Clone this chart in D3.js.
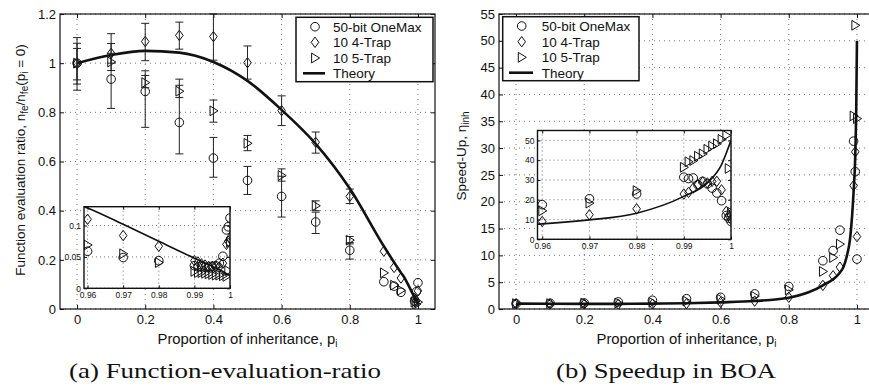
<!DOCTYPE html>
<html>
<head>
<meta charset="utf-8">
<script src="https://cdn.jsdelivr.net/npm/d3@7"></script>
<style>
  body { margin: 0; background: #fff; }
  svg { display: block; }
</style>
</head>
<body>
<svg id="fig" width="869" height="392"></svg>
<script>
// proportion of inheritance used for the main runs
const mainP = [0, 0.1, 0.2, 0.3, 0.4, 0.5, 0.6, 0.7, 0.8, 0.9, 0.93, 0.95, 0.99, 0.995, 1];
// proportions zoomed in the insets
const insetP = [0.96, 0.97, 0.98, 0.99, 0.991, 0.992, 0.993, 0.994, 0.995, 0.996, 0.997, 0.998, 0.999, 0.9995, 1];

// (a) function evaluation ratio
const ratioOneMax = [1.0, 0.935, 0.885, 0.759, 0.614, 0.523, 0.458, 0.354, 0.239, 0.111, 0.093, 0.068, 0.032, 0.07, 0.107];
const ratioTrap4  = [1.0, 1.04, 1.088, 1.113, 1.108, 1.002, 0.807, 0.678, 0.458, 0.235, 0.169, 0.126, 0.043, 0.034, 0.074];
const ratioTrap5  = [1.0, 1.005, 0.921, 0.886, 0.806, 0.674, 0.543, 0.42, 0.28, 0.147, 0.097, 0.076, 0.028, 0.019, 0.028];
// error bar ends (lower, upper) for p = 0 .. 0.8
const errOneMaxLo = [0.89, 0.816, 0.739, 0.631, 0.536, 0.466, 0.374, 0.307, 0.203];
const errOneMaxHi = [1.104, 1.12, 0.969, 0.935, 0.698, 0.58, 0.54, 0.394, 0.27];
const errTrap4Lo  = [0.915, 1.0, 1.01, 1.057, 1.012, 0.935, 0.746, 0.634, 0.429];
const errTrap4Hi  = [1.081, 1.08, 1.162, 1.167, 1.2, 1.07, 0.867, 0.72, 0.488];
const errTrap5Lo  = [0.932, 0.97, 0.9, 0.86, 0.76, 0.644, 0.52, 0.40, 0.265];
const errTrap5Hi  = [1.06, 1.04, 0.95, 0.91, 0.85, 0.706, 0.57, 0.44, 0.295];
// inset values of (a)
const insRatioOneMax = [0.059, 0.049, 0.044, 0.036, 0.034, 0.035, 0.033, 0.034, 0.035, 0.036, 0.04, 0.051, 0.093, 0.098, 0.112];
const insRatioTrap4  = [0.110, 0.084, 0.067, 0.044, 0.042, 0.039, 0.037, 0.035, 0.035, 0.035, 0.034, 0.04, 0.07, 0.075, 0.08];
const insRatioTrap5  = [0.069, 0.055, 0.041, 0.027, 0.025, 0.025, 0.024, 0.023, 0.022, 0.021, 0.021, 0.02, 0.019, 0.028, 0.073];

// (b) speed-up
const speedOneMax = [1.0, 1.07, 1.13, 1.32, 1.63, 1.91, 2.18, 2.82, 4.2, 9.0, 10.9, 14.7, 31.3, 25.6, 9.3];
const speedTrap4  = [1.0, 0.96, 0.92, 0.9, 0.9, 1.0, 1.24, 1.47, 2.18, 4.4, 6.2, 7.8, 23.0, 29.3, 13.5];
const speedTrap5  = [1.0, 1.0, 1.09, 1.13, 1.24, 1.48, 1.84, 2.38, 3.57, 7.0, 9.6, 12.1, 36.0, 52.9, 35.5];
const insSpeedOneMax = [17.5, 20.5, 22.9, 31.4, 30.7, 31, 27.6, 29.3, 28, 25.9, 23.4, 19.5, 12, 10.7, 9.0];
const insSpeedTrap4  = [9.0, 12.4, 15.4, 22.9, 23.7, 25.9, 27.6, 29, 28.5, 29.3, 29.3, 25, 14.1, 12, 10];
const insSpeedTrap5  = [14.4, 18.3, 24.6, 36.4, 39.2, 39.8, 42, 43.2, 45.5, 47.1, 48.3, 50.5, 52.5, 35.8, 13.7];

// theory curves
const theoryP       = [0, 0.1, 0.2, 0.3, 0.4, 0.5, 0.6, 0.7, 0.8, 0.9, 0.95, 0.96, 0.97, 0.98, 0.99, 0.995, 0.998, 1];
const theoryRatio   = [1.0, 1.033, 1.05, 1.043, 1.005, 0.928, 0.81, 0.672, 0.49, 0.255, 0.148, 0.128, 0.102, 0.075, 0.048, 0.035, 0.027, 0.02];
const theorySpeedup = [1.0, 0.97, 0.95, 0.96, 1.0, 1.08, 1.24, 1.49, 2.1, 4.4, 6.8, 7.8, 9.8, 13.2, 21.7, 28.5, 37.8, 50];

// ticks and labels
const xTicks = [0, 0.2, 0.4, 0.6, 0.8, 1];
const ratioTicks = [0, 0.2, 0.4, 0.6, 0.8, 1, 1.2];
const speedTicks = [0, 5, 10, 15, 20, 25, 30, 35, 40, 45, 50, 55];
const insXTicks = [0.96, 0.97, 0.98, 0.99, 1];
const insRatioTicks = [0, 0.05, 0.1];
const insSpeedTicks = [0, 10, 20, 30, 40, 50];
const seriesNames = ['50-bit OneMax', '10 4-Trap', '10 5-Trap', 'Theory'];
const xLabel = 'Proportion of inheritance, p';
const captions = ['(a) Function-evaluation-ratio', '(b) Speedup in BOA'];

const SANS = '"Liberation Sans", Arial, sans-serif';
const svg = d3.select('#fig');
const fmt = d3.format('~g');

const shapePath = {
  circle: 'M4.3,0A4.3,4.3 0 1,1 -4.3,0A4.3,4.3 0 1,1 4.3,0Z',
  diamond: 'M0,-5.2L3.8,0L0,5.2L-3.8,0Z',
  triangle: 'M-3.4,-4.9L4.6,0L-3.4,4.9Z'
};

let clipCount = 0;
function panel(o) {
  const g = svg.append('g');
  const x = d3.scaleLinear().domain(o.xDomain).range([o.left, o.right]);
  const y = d3.scaleLinear().domain(o.yDomain).range([o.bottom, o.top]);
  const id = 'clip' + (clipCount++);
  g.append('clipPath').attr('id', id).append('rect')
    .attr('x', o.left).attr('y', o.top)
    .attr('width', o.right - o.left).attr('height', o.bottom - o.top);
  g.append('rect')
    .attr('x', o.left).attr('y', o.top)
    .attr('width', o.right - o.left).attr('height', o.bottom - o.top)
    .attr('fill', '#fff');

  // dotted grid
  const grid = g.append('g').attr('stroke', '#666').attr('stroke-width', 0.9)
    .attr('stroke-dasharray', o.inset ? '1,3' : '1,4');
  grid.selectAll('.gx').data(o.xTicks).join('line')
    .attr('x1', d => x(d)).attr('x2', d => x(d))
    .attr('y1', o.top).attr('y2', o.bottom);
  grid.selectAll('.gy').data(o.yTicks).join('line')
    .attr('x1', o.left).attr('x2', o.right)
    .attr('y1', d => y(d)).attr('y2', d => y(d));

  // axes, ticks inside
  const ts = o.inset ? 3 : 4;
  const fs = o.inset ? 8.5 : 13;
  const ax = [
    d3.axisBottom(x).tickValues(o.xTicks).tickFormat(fmt).tickPadding(o.inset ? 4 : 6),
    d3.axisTop(x).tickValues(o.xTicks).tickFormat(''),
    d3.axisLeft(y).tickValues(o.yTicks).tickFormat(fmt).tickPadding(o.inset ? 3 : 4),
    d3.axisRight(y).tickValues(o.yTicks).tickFormat('')
  ];
  const pos = [
    `translate(0,${o.bottom})`, `translate(0,${o.top})`,
    `translate(${o.left},0)`, `translate(${o.right},0)`
  ];
  ax.forEach((a, i) => {
    const ag = g.append('g').attr('transform', pos[i])
      .call(a.tickSizeInner(-ts).tickSizeOuter(0));
    ag.select('.domain').remove();
    ag.selectAll('line').attr('stroke', '#111');
    ag.selectAll('text').attr('font-size', fs)
      .attr('font-family', SANS).attr('fill', '#111');
  });
  const data = g.append('g').attr('clip-path', `url(#${id})`);
  const frame = () => g.append('rect')
    .attr('x', o.left).attr('y', o.top)
    .attr('width', o.right - o.left).attr('height', o.bottom - o.top)
    .attr('fill', 'none').attr('stroke', '#111').attr('stroke-width', o.inset ? 1.4 : 1.2);
  return { g, data, x, y, frame };
}

function points(ps, vs) {
  return ps.map((p, i) => ({ p, v: vs[i] }));
}

function markers(P, shape, pts) {
  P.data.append('g').selectAll('path').data(pts).join('path')
    .attr('transform', d => `translate(${P.x(d.p)},${P.y(d.v)})`)
    .attr('d', shapePath[shape])
    .attr('fill', 'none').attr('stroke', '#111').attr('stroke-width', 1);
}

function theory(P, ps, vs, w) {
  const line = d3.line().x(d => P.x(d.p)).y(d => P.y(d.v)).curve(d3.curveMonotoneX);
  P.data.append('path').attr('d', line(points(ps, vs)))
    .attr('fill', 'none').attr('stroke', '#111').attr('stroke-width', w);
}

function errorBars(P, ps, lo, hi) {
  const rows = lo.map((l, i) => ({ p: ps[i], lo: l, hi: hi[i] }));
  const g = P.g.append('g').attr('stroke', '#222').attr('stroke-width', 1);
  g.selectAll('.v').data(rows).join('line')
    .attr('x1', d => P.x(d.p)).attr('x2', d => P.x(d.p))
    .attr('y1', d => P.y(d.lo)).attr('y2', d => P.y(d.hi));
  ['lo', 'hi'].forEach(k => {
    g.selectAll('.c' + k).data(rows).join('line')
      .attr('x1', d => P.x(d.p) - 4).attr('x2', d => P.x(d.p) + 4)
      .attr('y1', d => P.y(d[k])).attr('y2', d => P.y(d[k]));
  });
}

function legend(o) {
  const g = svg.append('g');
  g.append('rect').attr('x', o.x0).attr('y', o.y0)
    .attr('width', o.x1 - o.x0).attr('height', o.y1 - o.y0)
    .attr('fill', '#fff').attr('stroke', '#111').attr('stroke-width', 1.5);
  const shapes = ['circle', 'diamond', 'triangle'];
  seriesNames.forEach((name, i) => {
    const yy = o.rows[i];
    if (i < 3) {
      g.append('path').attr('transform', `translate(${o.mx},${yy})`)
        .attr('d', shapePath[shapes[i]])
        .attr('fill', 'none').attr('stroke', '#111').attr('stroke-width', 1);
    } else {
      g.append('line').attr('x1', o.lx0).attr('x2', o.lx1).attr('y1', yy).attr('y2', yy)
        .attr('stroke', '#111').attr('stroke-width', 2.6);
    }
    g.append('text').attr('x', o.tx).attr('y', yy).attr('dy', '0.36em')
      .attr('font-family', SANS).attr('font-size', 13.5).attr('fill', '#111').text(name);
  });
}

function xTitle(cx) {
  const t = svg.append('text').attr('x', cx).attr('y', 344)
    .attr('text-anchor', 'middle').attr('font-family', SANS)
    .attr('font-size', 14.8).attr('fill', '#111');
  t.append('tspan').text(xLabel);
  t.append('tspan').attr('dy', 3).attr('font-size', 10).text('i');
}

// ---------- (a) ----------
const A = panel({ left: 60, right: 435, top: 14, bottom: 309,
  xDomain: [-0.05, 1.05], yDomain: [0, 1.2], xTicks, yTicks: ratioTicks });
errorBars(A, mainP, errOneMaxLo, errOneMaxHi);
errorBars(A, mainP, errTrap4Lo, errTrap4Hi);
errorBars(A, mainP, errTrap5Lo, errTrap5Hi);
markers(A, 'circle', points(mainP, ratioOneMax));
markers(A, 'diamond', points(mainP, ratioTrap4));
markers(A, 'triangle', points(mainP, ratioTrap5));
theory(A, theoryP, theoryRatio, 2.6);
A.frame();

const Ai = panel({ left: 84, right: 230, top: 206.7, bottom: 288.3, inset: true,
  xDomain: [0.959, 1], yDomain: [0, 0.13], xTicks: insXTicks, yTicks: insRatioTicks });
markers(Ai, 'circle', points(insetP, insRatioOneMax));
markers(Ai, 'diamond', points(insetP, insRatioTrap4));
markers(Ai, 'triangle', points(insetP, insRatioTrap5));
theory(Ai, theoryP, theoryRatio, 1.6);
Ai.frame();

legend({ x0: 296, x1: 433, y0: 17.3, y1: 81.7, rows: [26.7, 42.3, 58, 73.3],
  mx: 315, tx: 333, lx0: 303, lx1: 325 });

// ---------- (b) ----------
const B = panel({ left: 499, right: 874, top: 14, bottom: 309,
  xDomain: [-0.05, 1.05], yDomain: [0, 55], xTicks, yTicks: speedTicks });
markers(B, 'circle', points(mainP, speedOneMax));
markers(B, 'diamond', points(mainP, speedTrap4));
markers(B, 'triangle', points(mainP, speedTrap5));
theory(B, theoryP, theorySpeedup, 2.6);
B.frame();

const Bi = panel({ left: 537.5, right: 731, top: 130.5, bottom: 239.3, inset: true,
  xDomain: [0.959, 1], yDomain: [0, 55], xTicks: insXTicks, yTicks: insSpeedTicks });
markers(Bi, 'circle', points(insetP, insSpeedOneMax));
markers(Bi, 'diamond', points(insetP, insSpeedTrap4));
markers(Bi, 'triangle', points(insetP, insSpeedTrap5));
theory(Bi, theoryP, theorySpeedup, 1.6);
Bi.frame();

legend({ x0: 502.7, x1: 639, y0: 16.7, y1: 80.7, rows: [26, 41.7, 57.3, 72.7],
  mx: 521.7, tx: 541.7, lx0: 509, lx1: 533 });

// ---------- axis titles ----------
xTitle(247.5);
xTitle(686.5);

const yA = svg.append('text').attr('transform', 'translate(25,160) rotate(-90)')
  .attr('text-anchor', 'middle').attr('font-family', SANS)
  .attr('font-size', 13.5).attr('fill', '#111');
yA.append('tspan').text('Function evaluation ratio, n');
yA.append('tspan').attr('dy', 3).attr('font-size', 10).text('fe');
yA.append('tspan').attr('dy', -3).text('/n');
yA.append('tspan').attr('dy', 3).attr('font-size', 10).text('fe');
yA.append('tspan').attr('dy', -3).text('(p');
yA.append('tspan').attr('dy', 3).attr('font-size', 10).text('i');
yA.append('tspan').attr('dy', -3).text(' = 0)');

const yB = svg.append('text').attr('transform', 'translate(466,156) rotate(-90)')
  .attr('text-anchor', 'middle').attr('font-family', SANS)
  .attr('font-size', 13.5).attr('fill', '#111');
yB.append('tspan').text('Speed-Up, \u03b7');
yB.append('tspan').attr('dy', 3).attr('font-size', 10).text('inh');

// ---------- captions ----------
svg.selectAll('.cap').data(captions).join('text')
  .attr('x', (d, i) => [225, 666][i]).attr('y', 378)
  .attr('text-anchor', 'middle')
  .attr('font-family', '"Liberation Serif", serif').attr('font-size', 21)
  .attr('textLength', (d, i) => [312, 220][i]).attr('lengthAdjust', 'spacingAndGlyphs')
  .attr('fill', '#111')
  .text(d => d);
</script>
</body>
</html>
